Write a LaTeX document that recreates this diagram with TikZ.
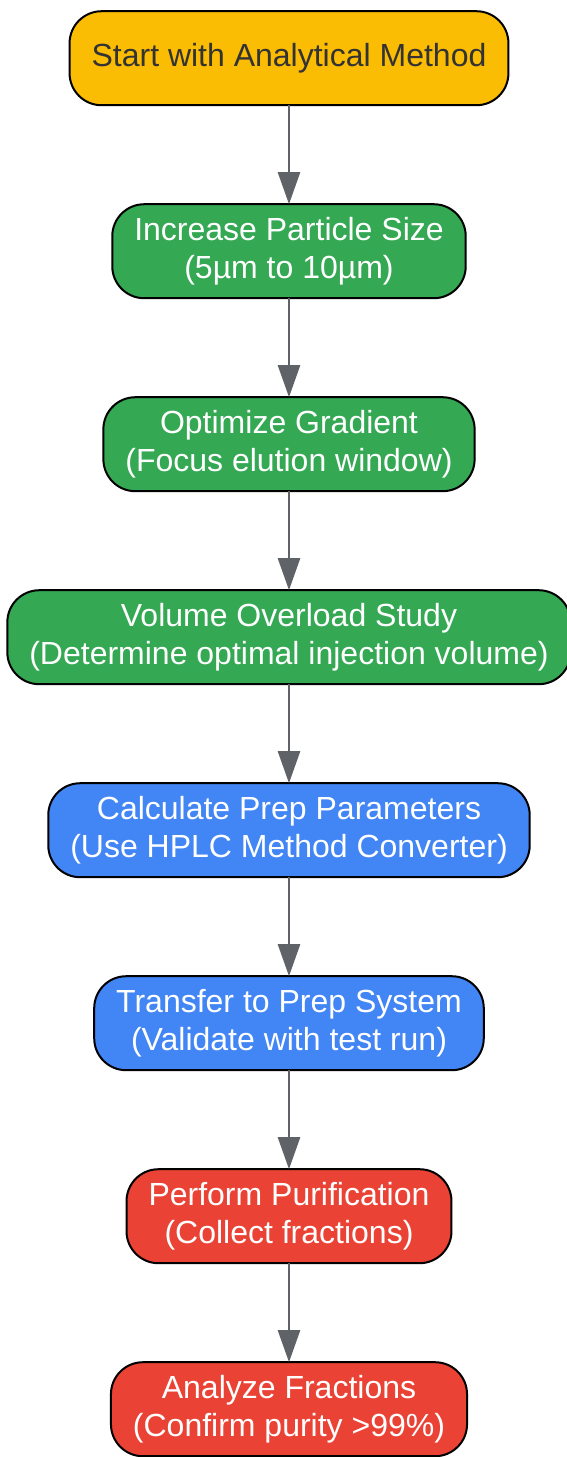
\documentclass[tikz,border=0pt]{standalone}
\usepackage{fontspec}
\setmainfont{Liberation Sans}
\usepackage{xcolor}
\usepackage{tikz}
\usetikzlibrary{arrows.meta}
\usetikzlibrary{matrix}
\definecolor{gyellow}{HTML}{FBBC04}
\definecolor{ggreen}{HTML}{34A853}
\definecolor{gblue}{HTML}{4285F4}
\definecolor{gred}{HTML}{EA4335}
\definecolor{darktext}{HTML}{333333}
\definecolor{arrowgray}{HTML}{5F6368}
\tikzstyle{stepbox}=[draw=black,line width=2pt,rounded corners=32pt,minimum height=94pt,inner xsep=22pt,outer sep=0pt,align=center,text=white,font=\fontsize{32pt}{38pt}\selectfont]
\tikzstyle{startbox}=[stepbox,fill=gyellow,text=darktext]
\tikzstyle{greenbox}=[stepbox,fill=ggreen]
\tikzstyle{bluebox}=[stepbox,fill=gblue]
\tikzstyle{redbox}=[stepbox,fill=gred]
\tikzstyle{flow}=[line width=2.5pt,draw=arrowgray,-{Triangle[length=32pt,width=22pt]}]
\begin{document}
\begin{tikzpicture}
	\useasboundingbox (0,0) rectangle (567pt,-1457pt);
	\matrix [row sep=97pt,inner sep=0pt,anchor=north] at (289pt,-10pt) {
			\node[startbox] (start)    {Start with Analytical Method}; \\
			\node[greenbox] (size)     {Increase Particle Size\\(5µm to 10µm)}; \\
			\node[greenbox] (gradient) {Optimize Gradient\\(Focus elution window)}; \\
			\node[greenbox] (overload) {Volume Overload Study\\(Determine optimal injection volume)}; \\
			\node[bluebox]  (params)   {Calculate Prep Parameters\\(Use HPLC Method Converter)}; \\
			\node[bluebox]  (transfer) {Transfer to Prep System\\(Validate with test run)}; \\
			\node[redbox]   (purify)   {Perform Purification\\(Collect fractions)}; \\
			\node[redbox]   (analyze)  {Analyze Fractions\\(Confirm purity >99\%)}; \\
	};
	\draw[flow] (start) -- (size);
	\draw[flow] (size) -- (gradient);
	\draw[flow] (gradient) -- (overload);
	\draw[flow] (overload) -- (params);
	\draw[flow] (params) -- (transfer);
	\draw[flow] (transfer) -- (purify);
	\draw[flow] (purify) -- (analyze);
\end{tikzpicture}
\end{document}
